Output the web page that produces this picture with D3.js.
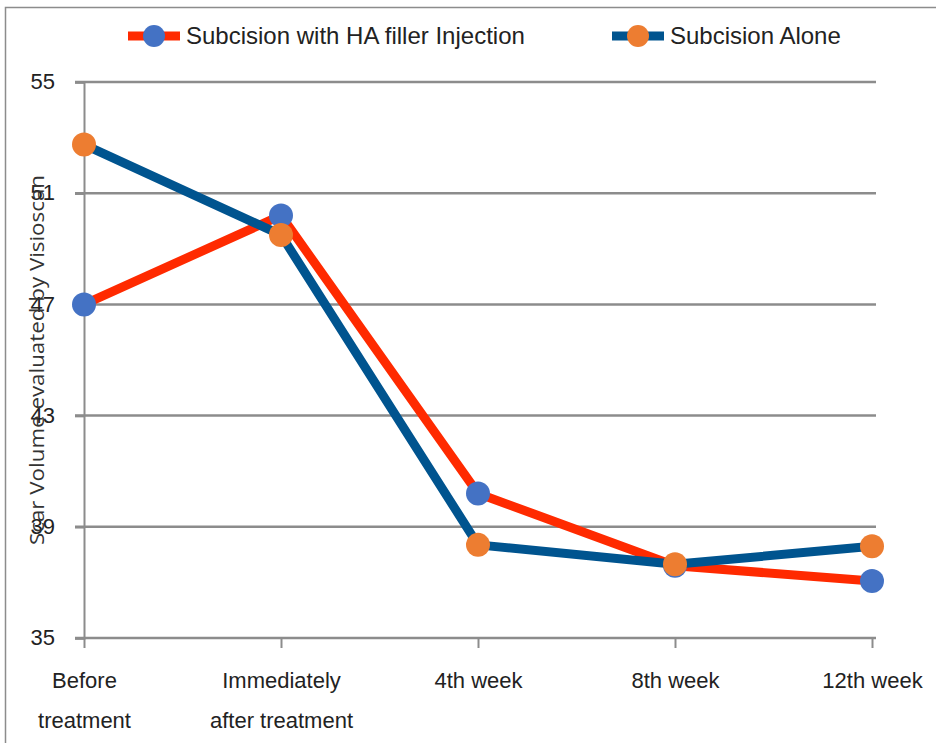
<!DOCTYPE html>
<html><head><meta charset="utf-8">
<script src="https://cdn.jsdelivr.net/npm/d3@7"></script>
<style>body{margin:0;background:#fff}svg{display:block}</style>
</head><body>
<svg id="c" width="936" height="743"></svg>
<script>
const categories = [["Before","treatment"],["Immediately","after treatment"],["4th week"],["8th week"],["12th week"]];
const seriesNames = ["Subcision with HA filler Injection","Subcision Alone"];
const haFiller = [47.0, 50.2, 40.2, 37.6, 37.05];
const alone = [52.75, 49.5, 38.35, 37.65, 38.3];
const yTicks = [35, 39, 43, 47, 51, 55];
const yTitle = "Scar Volume evaluated by Visioscan";

(function(){
const FONT = "'Liberation Sans Narrow','Liberation Sans',sans-serif";
const svg = d3.select("#c");
const pLeft = 84, pRight = 872, pTop = 82, pBottom = 638;

// frame
svg.append("rect").attr("x",5.5).attr("y",7.5).attr("width",940).attr("height",760)
  .attr("fill","none").attr("stroke","#8c8c8c").attr("stroke-width",1.5);

const x = d3.scalePoint().domain(d3.range(categories.length)).range([pLeft,pRight]);
const y = d3.scaleLinear().domain([35,55]).range([pBottom,pTop]);

// gridlines
svg.append("g").selectAll("line").data(yTicks.filter(t=>t>35)).join("line")
  .attr("x1",75).attr("x2",pRight+4).attr("y1",d=>y(d)).attr("y2",d=>y(d))
  .attr("stroke","#8c8c8c").attr("stroke-width",2.5);

// y axis
const yAxis = d3.axisLeft(y).tickValues(yTicks).tickSize(9).tickPadding(4);
const gy = svg.append("g").attr("transform",`translate(${pLeft},0)`).call(yAxis);
gy.select(".domain").attr("stroke","#8c8c8c").attr("stroke-width",2);
gy.selectAll(".tick line").attr("stroke","#8c8c8c").attr("stroke-width",2.5);
gy.selectAll("text").attr("font-family",FONT).attr("font-size",22).attr("fill","#222").attr("x",-29).attr("dy","0.3em");

// x axis
const xAxis = d3.axisBottom(x).tickSize(10).tickFormat("");
const gx = svg.append("g").attr("transform",`translate(0,${pBottom})`).call(xAxis);
gx.select(".domain").attr("d",`M75,0H${pRight+4}`).attr("stroke","#8c8c8c").attr("stroke-width",2.5);
gx.selectAll(".tick line").attr("stroke","#8c8c8c").attr("stroke-width",2);
gx.selectAll(".tick").each(function(d){
  const t = d3.select(this).append("text").attr("font-family",FONT).attr("font-size",22)
    .attr("fill","#222").attr("text-anchor","middle");
  categories[d].forEach((s,i)=>t.append("tspan").attr("x",0).attr("y",50+i*40).text(s));
});

// y title
svg.append("text").attr("transform","translate(44,360) rotate(-90)")
  .attr("text-anchor","middle").attr("font-family","'Open Sans',sans-serif").attr("font-size",20)
  .attr("fill","#333").attr("textLength",370).attr("lengthAdjust","spacingAndGlyphs").text(yTitle);

const line = d3.line().x((d,i)=>x(i)).y(d=>y(d));
const series = [
  {vals:haFiller, line:"#ff2a00", mark:"#4472c4"},
  {vals:alone, line:"#00548f", mark:"#ed7d31"}
];
series.forEach(s=>{
  svg.append("path").datum(s.vals).attr("d",line).attr("fill","none")
    .attr("stroke",s.line).attr("stroke-width",9).attr("stroke-linejoin","round");
  svg.append("g").selectAll("circle").data(s.vals).join("circle")
    .attr("cx",(d,i)=>x(i)).attr("cy",d=>y(d)).attr("r",12).attr("fill",s.mark);
});

// legend
const lg = [{x0:128, tx:186, name:seriesNames[0], s:series[0]},{x0:612, tx:670, name:seriesNames[1], s:series[1]}];
lg.forEach(l=>{
  svg.append("line").attr("x1",l.x0).attr("x2",l.x0+52).attr("y1",36).attr("y2",36)
    .attr("stroke",l.s.line).attr("stroke-width",9);
  svg.append("circle").attr("cx",l.x0+26).attr("cy",36).attr("r",11).attr("fill",l.s.mark);
  svg.append("text").attr("x",l.tx).attr("y",36).attr("dy","0.35em").attr("font-family",FONT)
    .attr("font-size",24).attr("fill","#222").text(l.name);
});
})();
</script>
</body></html>
